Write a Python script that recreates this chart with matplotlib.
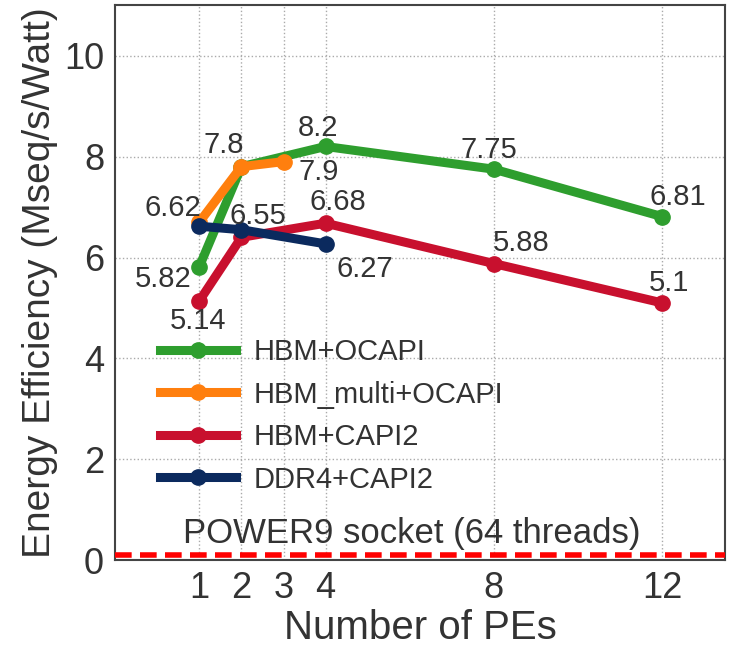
import matplotlib
matplotlib.use("Agg")
import matplotlib.pyplot as plt

plt.rcParams['font.family'] = ['Liberation Sans', 'DejaVu Sans']

# Data
hbm_ocapi_x = [1, 2, 4, 8, 12]
hbm_ocapi_y = [5.82, 7.8, 8.2, 7.75, 6.81]
hbm_multi_x = [1, 2, 3]
hbm_multi_y = [6.7, 7.8, 7.9]
hbm_capi_x = [1, 2, 4, 8, 12]
hbm_capi_y = [5.14, 6.4, 6.68, 5.88, 5.1]
ddr4_capi_x = [1, 2, 4]
ddr4_capi_y = [6.62, 6.55, 6.27]
power9_y = 0.1
xticks = [1, 2, 3, 4, 8, 12]

# value labels: (text, x, y)
value_labels = [
    ('5.82', 0.14, 5.58), ('7.8', 1.57, 8.22), ('8.2', 3.83, 8.57),
    ('7.75', 7.88, 8.14), ('6.81', 12.36, 7.2), ('7.9', 3.83, 7.7),
    ('5.14', 0.98, 4.75), ('6.68', 4.29, 7.1), ('5.88', 8.64, 6.28),
    ('5.1', 12.17, 5.49), ('6.62', 0.36, 6.99), ('6.55', 2.4, 6.83),
    ('6.27', 4.93, 5.78),
]

fig = plt.figure(figsize=(7.29, 6.47), dpi=100)
ax = fig.add_axes([0.158, 0.134, 0.837, 0.858])

lw, ms = 6.5, 11
ax.plot(hbm_ocapi_x, hbm_ocapi_y, '-o', color='#2e9e2e', lw=lw, ms=ms, label='HBM+OCAPI')
ax.plot(hbm_multi_x, hbm_multi_y, '-o', color='#ff7f0e', lw=lw, ms=ms, label='HBM_multi+OCAPI')
ax.plot(hbm_capi_x, hbm_capi_y, '-o', color='#c8102e', lw=lw, ms=ms, label='HBM+CAPI2')
ax.plot(ddr4_capi_x, ddr4_capi_y, '-o', color='#0b2a5e', lw=lw, ms=ms, label='DDR4+CAPI2')

ax.axhline(power9_y, color='red', lw=4, ls=(0, (3, 1.5)), zorder=5)
ax.text(6.05, power9_y + 0.1, 'POWER9 socket (64 threads)', fontsize=25,
        ha='center', va='bottom', color='#333333')

tc = '#333333'
for txt, x, y in value_labels:
    ax.text(x, y, txt, fontsize=21, ha='center', va='center', color=tc)

ax.set_xlim(-1, 13.5)
ax.set_ylim(0, 11)
ax.set_xticks(xticks)
ax.set_yticks([0, 2, 4, 6, 8, 10])
ax.tick_params(labelsize=26, colors='#333333', length=0, pad=8)
ax.set_xlabel('Number of PEs', fontsize=29, color='#333333', labelpad=2)
ax.set_ylabel('Energy Efficiency (Mseq/s/Watt)', fontsize=28, color='#333333', labelpad=4)
ax.grid(True, ls=':', color='#aaaaaa', lw=1)
for s in ax.spines.values():
    s.set_color('#444444')
    s.set_linewidth(1.5)

ax.legend(loc='lower left', bbox_to_anchor=(0.074, 0.12), frameon=False, fontsize=21,
          handlelength=2.6, handletextpad=0.6, labelspacing=0.5, borderpad=0,
          borderaxespad=0, labelcolor='#333333')

fig.savefig('out.png', dpi=100)
